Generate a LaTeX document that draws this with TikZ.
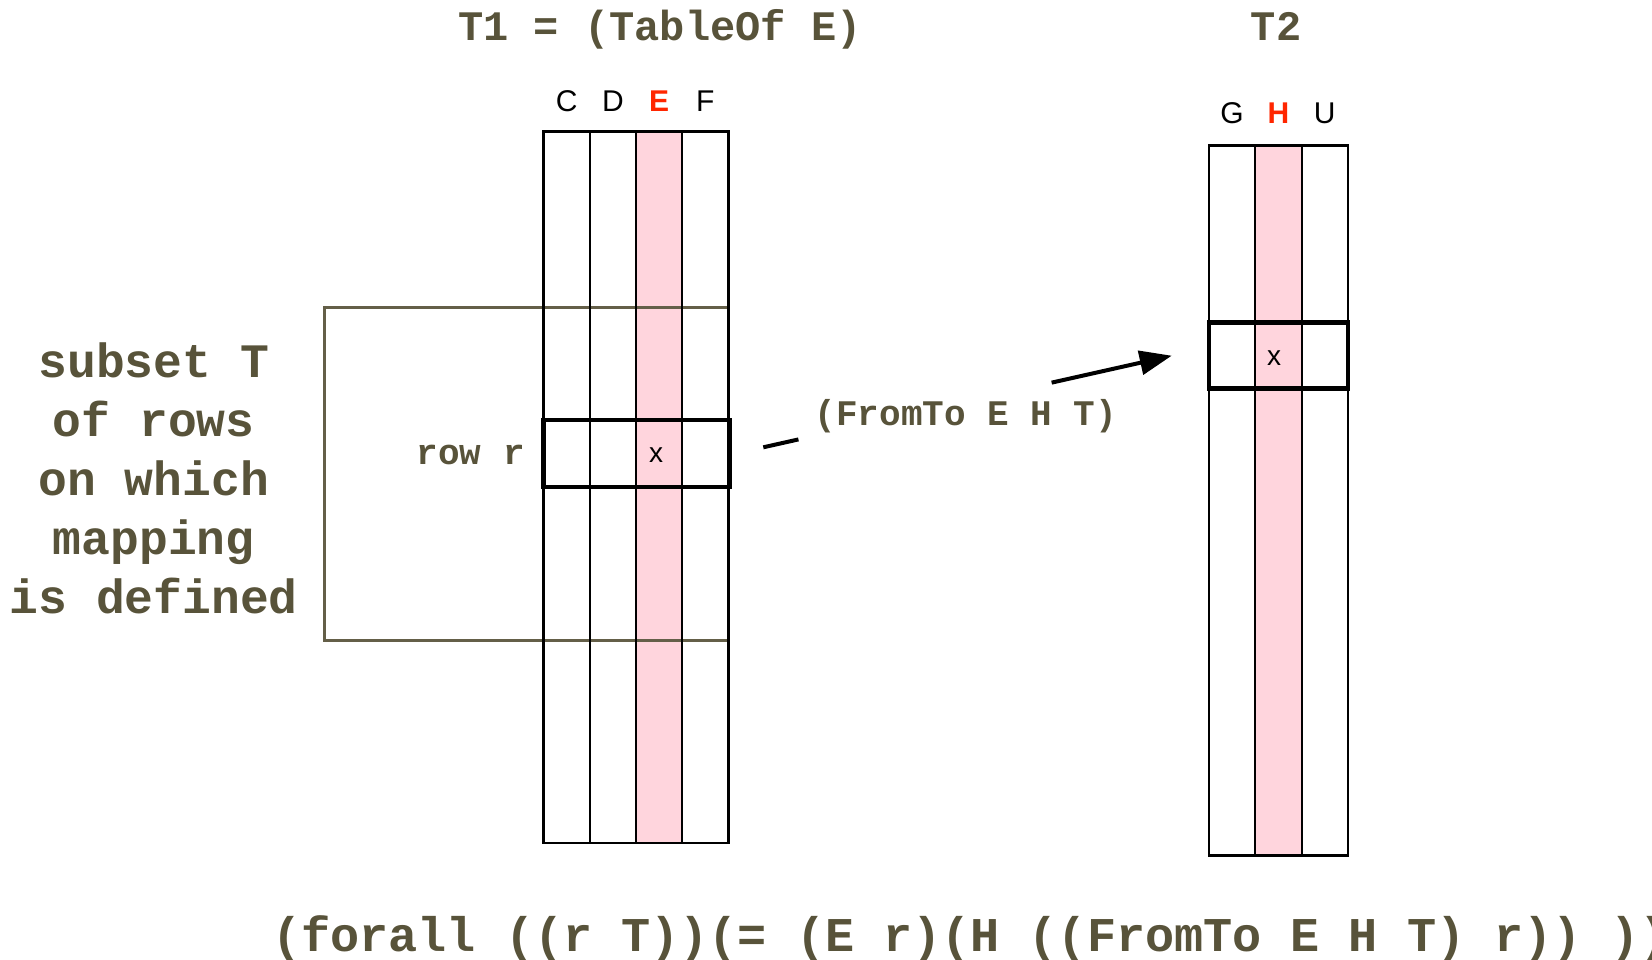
\documentclass[tikz,border=0pt]{standalone}
\usepackage{fontspec}
\setmainfont{Liberation Sans}
\newfontfamily\codefont{Liberation Mono}
\usetikzlibrary{arrows.meta,calc}
\definecolor{codeink}{RGB}{88,83,58}
\definecolor{boxink}{RGB}{100,95,72}
\definecolor{keyred}{RGB}{255,38,0}
\definecolor{keypink}{RGB}{255,213,221}
\begin{document}
\begin{tikzpicture}[x=1pt,y=-1pt,
  code/.style={font=\codefont\bfseries\fontsize{#1}{#1}\selectfont, text=codeink, inner sep=0pt},
  collabel/.style={font=\fontsize{30}{30}\selectfont, inner sep=0pt, anchor=base},
  keylabel/.style={collabel, text=keyred, font=\bfseries\fontsize{30}{30}\selectfont},
  column/.style={draw=black, line width=2.2pt, inner sep=0pt, outer sep=0pt,
                 minimum width=46.3pt},
  rowbox/.style={draw=black, line width=4.5pt, inner sep=0pt, outer sep=0pt},
  cellmark/.style={font=\fontsize{28}{28}\selectfont, inner sep=0pt},
  link/.style={line width=4pt, draw=black}]
\useasboundingbox (0,0) rectangle (1652,959);
\clip (0,0) rectangle (1652,959);

% ---- titles ----
\node[code=42, anchor=base] (t1title) at (660,40.7) {T1 = (TableOf E)};
\node[code=42, anchor=base] (t2title) at (1276,40.7) {T2};

% ---- table T1 ----
\fill[keypink] (636,131.5) rectangle (682.3,843);
\draw[boxink, line width=2.5pt] (324.5,307.6) rectangle (728.5,640.6);
\node[column, minimum height=711.5pt] (colC) at (566.65,487.25) {};
\node[column, minimum height=711.5pt] (colD) at (612.85,487.25) {};
\node[column, minimum height=711.5pt] (colE) at (659.15,487.25) {};
\node[column, minimum height=711.5pt] (colF) at (705.4,487.25) {};
\node[collabel] (labC) at (colC |- 0,111.7) {C};
\node[collabel] (labD) at (colD |- 0,111.7) {D};
\node[keylabel] (labE) at (colE |- 0,111.7) {E};
\node[collabel] (labF) at (colF |- 0,111.7) {F};
\node[rowbox, minimum width=186.5pt, minimum height=67pt] (rowr) at (636.75,453.5) {};
\node[cellmark] (xone) at (656,455) {x};
\node[code=36, anchor=base east] (rowlabel) at (525,464.5) {row r};

% ---- table T2 ----
\fill[keypink] (1255.3,145.5) rectangle (1301.6,855.5);
\node[column, minimum height=710pt] (colG) at (1232.15,500.5) {};
\node[column, minimum height=710pt] (colH) at (1278.45,500.5) {};
\node[column, minimum height=710pt] (colU) at (1324.75,500.5) {};
\node[collabel] (labG) at (colG |- 0,123.3) {G};
\node[keylabel] (labH) at (colH |- 0,123.3) {H};
\node[collabel] (labU) at (colU |- 0,123.3) {U};
\node[rowbox, minimum width=139pt, minimum height=65.6pt] (rowx) at (1278.45,355.5) {};
\node[cellmark] (xtwo) at (1274,358) {x};

% ---- mapping arrow, broken by its label ----
\coordinate (maptail) at (763.3,447.3);
\coordinate (maptip) at (1171.7,355.7);
\draw[link] (maptail) -- ($(maptail)!0.086!(maptip)$);
\draw[link, -{Triangle[length=32pt,width=24pt]}] ($(maptail)!0.706!(maptip)$) -- (maptip);
\node[code=36, anchor=base] (maplabel) at (966,425) {(FromTo E H T)};

% ---- left annotation (base anchor sits on the last line) ----
\node[align=center, anchor=base, inner sep=0pt, text=codeink,
      font=\codefont\bfseries\fontsize{48}{58.8}\selectfont] (subset) at (153.8,613)
  {subset T\\of rows\\on which\\mapping\\is defined};

% ---- bottom formula ----
\node[code=48.5, anchor=base west] (formula) at (272,951)
  {(forall ((r T))(= (E r)(H ((FromTo E H T) r)) ))};
\end{tikzpicture}
\end{document}
